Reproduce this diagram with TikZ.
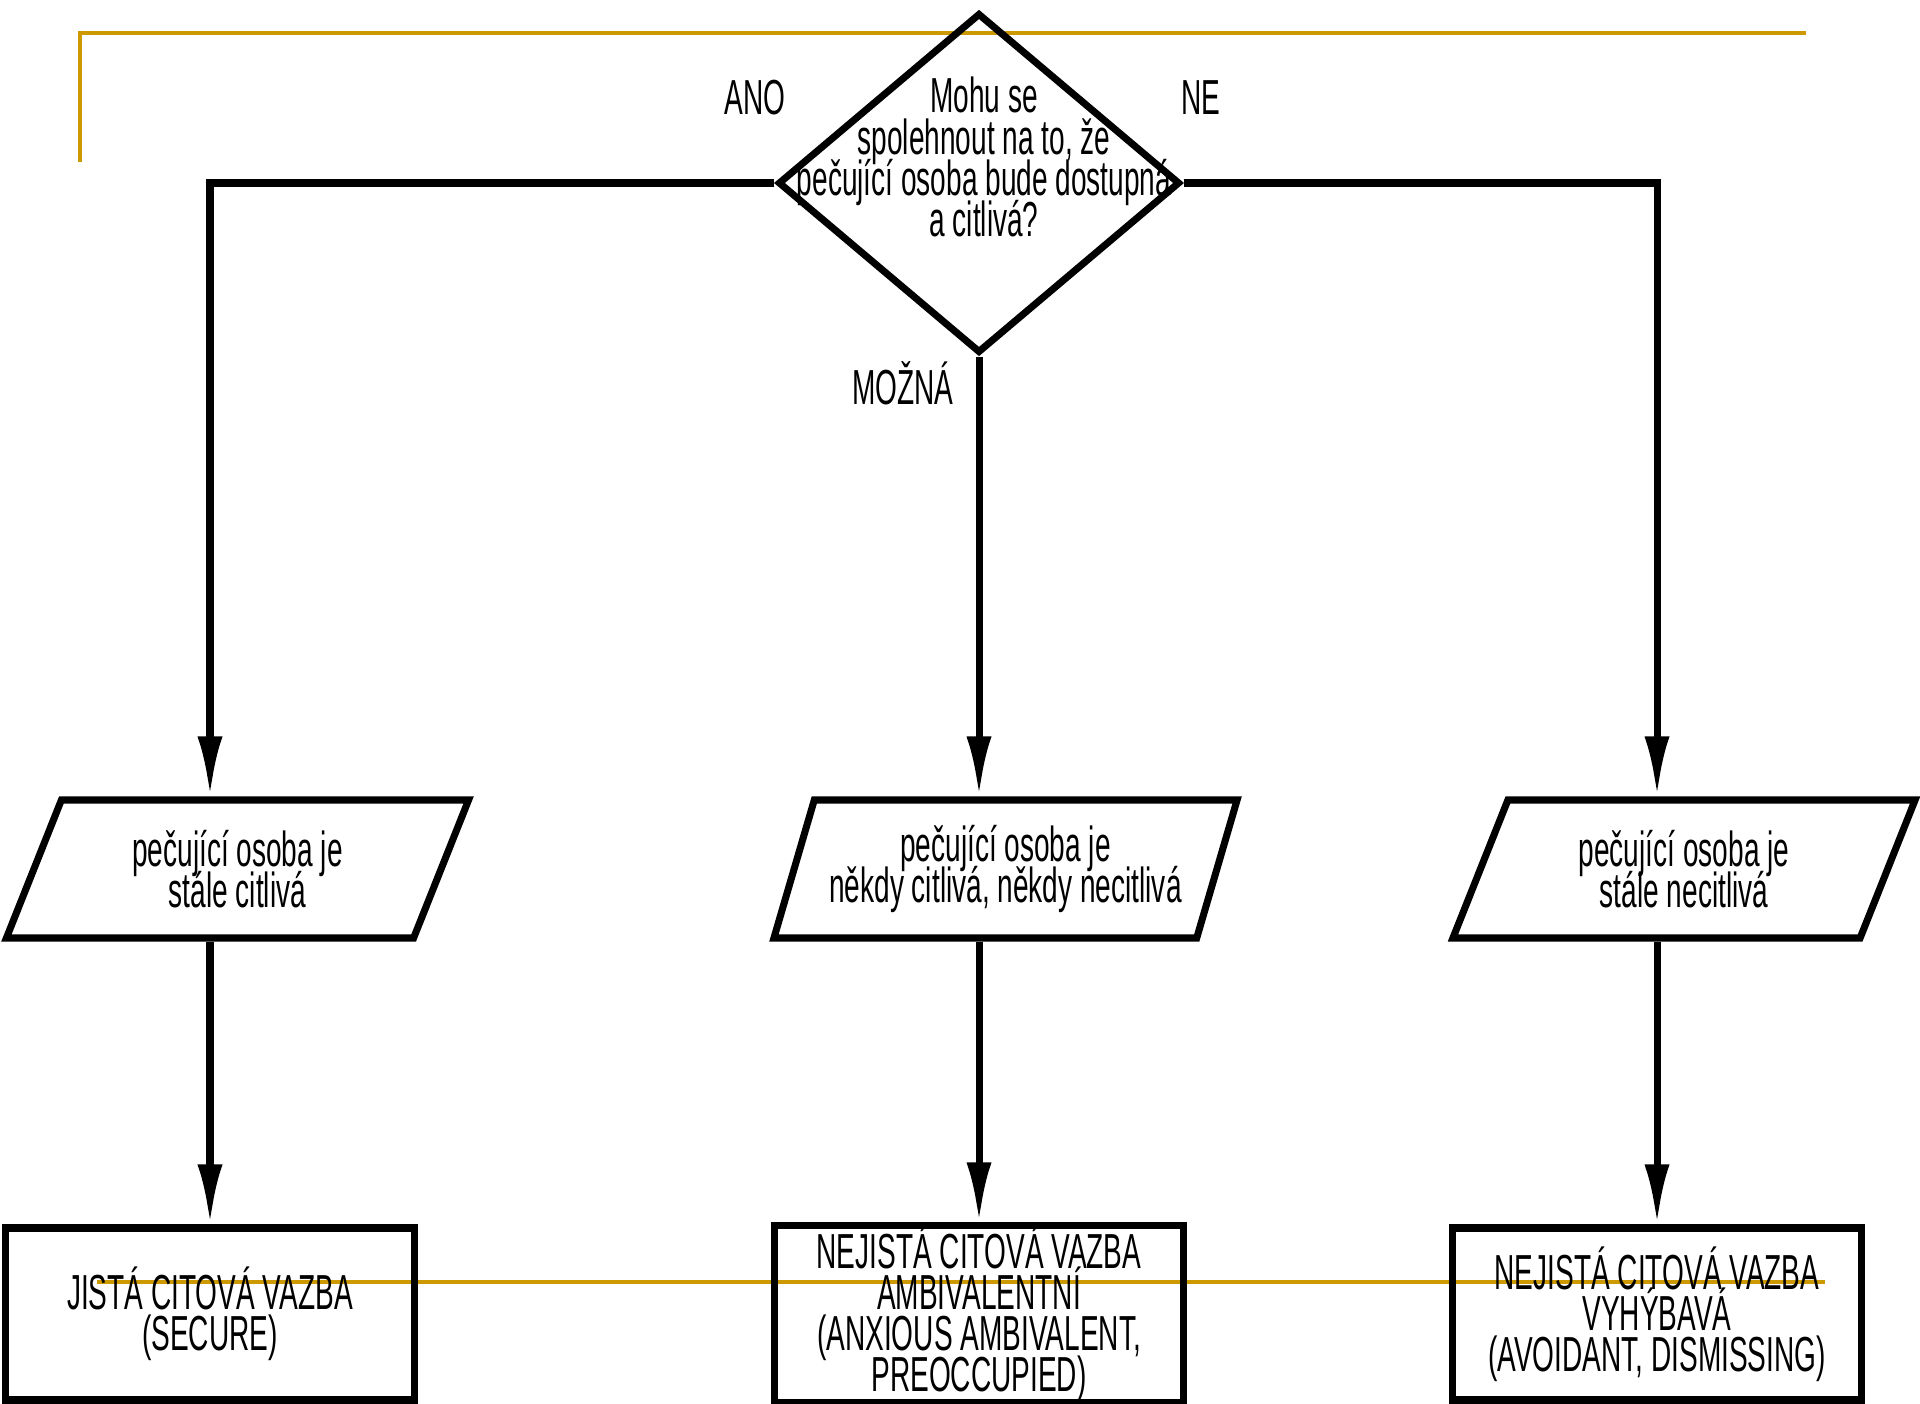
\documentclass[tikz,border=0pt]{standalone}
\usepackage{fontspec}
\usepackage{xcolor}
\usepackage{tikz}
\usetikzlibrary{arrows.meta}
\usetikzlibrary{calc}
\usetikzlibrary{positioning}
\usetikzlibrary{shapes.geometric}

\newfontfamily\chartfont[FakeStretch=0.57]{Liberation Sans}
\newcommand\chartsize{\chartfont\fontsize{14}{11.7}\selectfont\lineskiplimit=-1000pt\relax}
\definecolor{slidegold}{RGB}{204,153,0}

\begin{document}
\begin{tikzpicture}
[
	decision/.style	= {diamond, draw, line width = 2pt, minimum width = 4.02cm, minimum height = 3.40cm, inner sep = 0cm},
	care/.style	= {trapezium, trapezium left angle = 68.6, trapezium right angle = 111.4, trapezium stretches = true, draw, line width = 2pt, minimum width = 4.64cm, minimum height = 1.38cm, inner sep = 0.05cm, txt},
	result/.style	= {rectangle, draw, line width = 2pt, minimum width = 4.09cm, minimum height = 1.72cm, inner sep = 0cm, txt},
	txt/.style	= {font = \chartsize, align = center},
	link/.style	= {line width = 2pt, -{Latex[length = 0.6cm, width = 0.25cm]}},
	gold/.style	= {slidegold, line width = 1.1pt},
]

	\useasboundingbox (0,0) rectangle (19.2,-14.04);

	% slide frame
	\draw [gold] (0.80,-1.62) -- (0.80,-0.33) -- (18.06,-0.33);
	\draw [gold] (0.97,-12.82) -- (18.25,-12.82);

	\node (ask) [decision] at (9.79,-1.83) {};
	\node (askText) [txt] at (9.84,-1.57) {Mohu se\\spolehnout na to, že\\pečující osoba bude dostupná\\a citlivá?};
	%
	\node (care1) [care] at (2.375,-8.69) {pečující osoba je\\stále citlivá};
	\node (care2) [care] at (10.055,-8.69) {pečující osoba je\\někdy citlivá, někdy necitlivá};
	\node (care3) [care] at (16.84,-8.69) {pečující osoba je\\stále necitlivá};
	%
	\node (res1) [result] at (2.10,-13.14) {JISTÁ CITOVÁ VAZBA\\(SECURE)};
	\node (res2) [result] at (9.79,-13.14) {NEJISTÁ CITOVÁ VAZBA\\AMBIVALENTNÍ\\(ANXIOUS AMBIVALENT,\\PREOCCUPIED)};
	\node (res3) [result] at (16.57,-13.14) {NEJISTÁ CITOVÁ VAZBA\\VYHÝBAVÁ\\(AVOIDANT, DISMISSING)};

	\node (ano) [txt] at (7.55,-0.98) {ANO};
	\node (ne) [txt] at (12.01,-0.98) {NE};
	\node (mozna) [txt] at (9.03,-3.83) {MOŽNÁ};

	\draw [link] (ask.west) -| (care1.north -| res1.north);
	\draw [link] (ask.south) -- (care2.north -| res2.north);
	\draw [link] (ask.east) -| (care3.north -| res3.north);

	\draw [link] (care1.south -| res1.north) -- (res1.north);
	\draw [link] (care2.south -| res2.north) -- (res2.north);
	\draw [link] (care3.south -| res3.north) -- (res3.north);

\end{tikzpicture}
\end{document}
